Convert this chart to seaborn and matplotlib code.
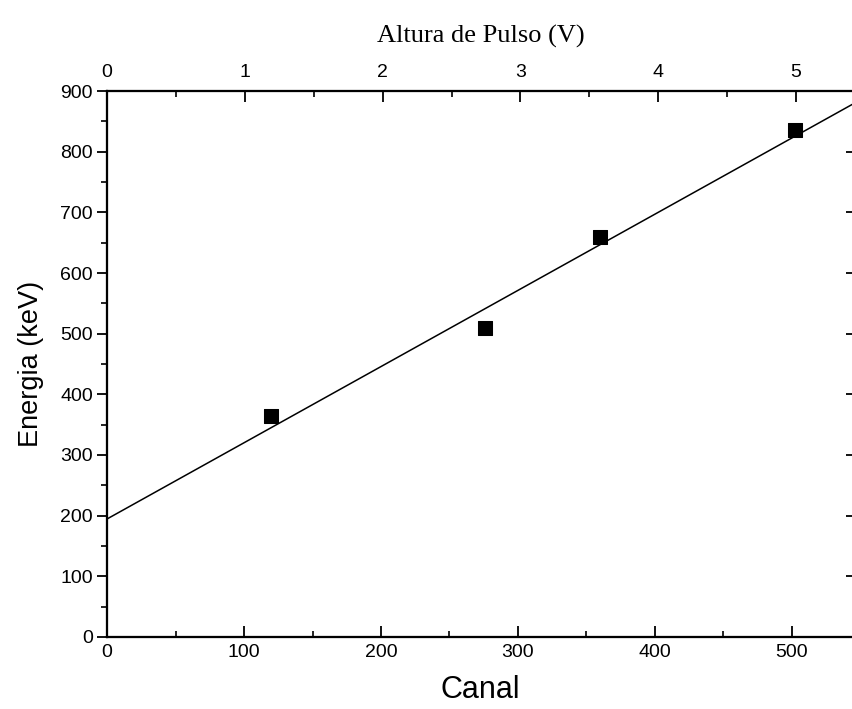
import seaborn as sns
import matplotlib.pyplot as plt
import pandas as pd
import numpy as np

# Calibration points (channel vs energy)
canal = [120, 276, 360, 502]
energia = [365, 510, 660, 835]

# Fitted line endpoints
fit_canal = [0, 546]
fit_energia = [194.5, 880.5]

# Channels per volt for the top axis
canal_per_volt = 100.6

df = pd.DataFrame({'Canal': canal, 'Energia': energia})
fit_df = pd.DataFrame({'Canal': fit_canal, 'Energia': fit_energia})

sns.set_style("ticks")
plt.rcParams['font.family'] = ['Liberation Sans', 'DejaVu Sans']
plt.rcParams['text.color'] = 'black'
plt.rcParams['axes.labelcolor'] = 'black'
plt.rcParams['xtick.color'] = 'black'
plt.rcParams['ytick.color'] = 'black'

fig = plt.figure(figsize=(8.52, 7.09), dpi=100)
ax = fig.add_axes([0.1256, 0.1016, 0.8768, 0.77])

sns.lineplot(ax=ax, data=fit_df, x='Canal', y='Energia', color='black', linewidth=1.1)
sns.scatterplot(ax=ax, data=df, x='Canal', y='Energia', marker='s', s=90,
                color='black', edgecolor='black', zorder=3)

xmax = 545.3
ax.set_xlim(0, xmax)
ax.set_ylim(0, 900)
ax.set_xticks(np.arange(0, 501, 100))
ax.set_xticks(np.arange(50, 546, 100), minor=True)
ax.set_yticks(np.arange(0, 901, 100))
ax.set_yticks(np.arange(50, 901, 100), minor=True)

for sp in ax.spines.values():
    sp.set_linewidth(1.5)
    sp.set_color('black')

ax.tick_params(axis='x', which='major', direction='in', length=8, width=1.3,
               labelsize=14, pad=5, top=False)
ax.tick_params(axis='x', which='minor', direction='in', length=4, width=1.2, top=False)
ax.tick_params(axis='y', which='major', direction='out', length=7, width=1.3,
               labelsize=14, pad=3, right=False)
ax.tick_params(axis='y', which='minor', direction='out', length=4, width=1.2, right=False)

ax.set_xlabel('Canal', fontsize=22, labelpad=10)
ax.set_ylabel('Energia (keV)', fontsize=19.5, labelpad=12)

# Right side: inward ticks, no labels
axr = ax.twinx()
axr.set_ylim(0, 900)
axr.set_yticks(np.arange(0, 901, 100))
axr.tick_params(axis='y', direction='in', length=6, width=1.3, labelright=False)
axr.grid(False)

# Top axis in volts
ax2 = ax.twiny()
ax2.set_xlim(0, xmax / canal_per_volt)
ax2.set_xticks(np.arange(0, 6, 1))
ax2.set_xticks(np.arange(0.5, 5.5, 1), minor=True)
ax2.tick_params(axis='x', which='major', direction='in', length=8, width=1.3,
                labelsize=14, pad=7)
ax2.tick_params(axis='x', which='minor', direction='in', length=4, width=1.2)
ax2.set_xlabel('Altura de Pulso (V)', fontsize=19, family=['Liberation Serif', 'DejaVu Serif'],
               labelpad=16)
for a in (axr, ax2):
    for sp in a.spines.values():
        sp.set_linewidth(1.5)
        sp.set_color('black')

fig.savefig('out.png', dpi=100)
